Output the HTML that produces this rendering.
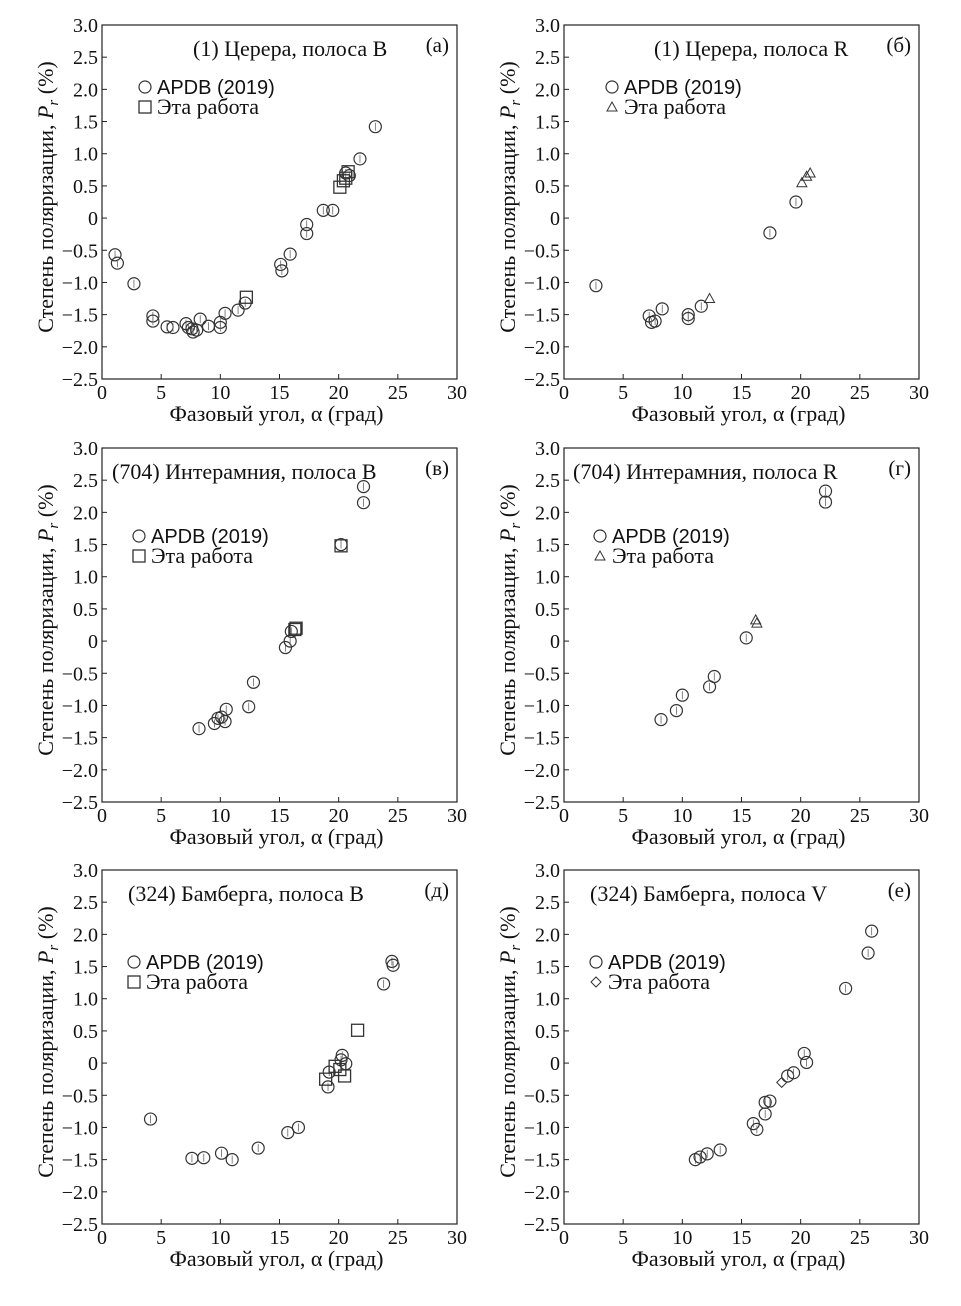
<!DOCTYPE html>
<html><head><meta charset="utf-8"><style>
html,body{margin:0;padding:0;background:#fff}
svg{display:block;font-family:"Liberation Serif",serif}
</style></head><body>
<svg id="c" width="961" height="1306" viewBox="0 0 961 1306" xmlns="http://www.w3.org/2000/svg"></svg>
<script>
const xTicks=[0,5,10,15,20,25,30];
const yTicks=[3.0,2.5,2.0,1.5,1.0,0.5,0,-0.5,-1.0,-1.5,-2.0,-2.5];
const yTickLabels=["3.0","2.5","2.0","1.5","1.0","0.5","0","−0.5","−1.0","−1.5","−2.0","−2.5"];
// Panel a
const aApdbX=[1.1,1.3,2.7,4.3,4.3,5.5,6,7.1,7.3,7.6,7.7,8.0,8.3,9,10,10,10.4,11.5,12.1,15.1,15.2,15.9,17.3,17.3,18.7,19.5,20.9,20.6,21.8,23.1];
const aApdbY=[-0.57,-0.70,-1.02,-1.52,-1.60,-1.69,-1.70,-1.64,-1.70,-1.72,-1.77,-1.74,-1.57,-1.68,-1.62,-1.70,-1.48,-1.43,-1.32,-0.72,-0.82,-0.56,-0.10,-0.24,0.12,0.12,0.66,0.70,0.92,1.42];
const aOwnX=[12.2,20.1,20.4,20.6,20.8];
const aOwnY=[-1.23,0.48,0.58,0.62,0.72];
// Panel b
const bApdbX=[2.7,7.2,7.4,7.7,8.3,10.5,10.5,11.6,17.4,19.6];
const bApdbY=[-1.05,-1.52,-1.62,-1.60,-1.41,-1.50,-1.56,-1.37,-0.23,0.25];
const bOwnX=[12.3,20.1,20.5,20.8];
const bOwnY=[-1.25,0.55,0.65,0.70];
// Panel c
const cApdbX=[8.2,9.5,9.8,10.1,10.4,10.5,12.4,12.8,15.5,15.9,16.0,20.2,22.1,22.1];
const cApdbY=[-1.36,-1.28,-1.20,-1.18,-1.25,-1.06,-1.02,-0.64,-0.10,0.0,0.15,1.50,2.40,2.15];
const cOwnX=[16.3,16.4,20.2];
const cOwnY=[0.18,0.20,1.48];
// Panel d
const dApdbX=[8.2,9.5,10,12.3,12.7,15.4,22.1,22.1];
const dApdbY=[-1.22,-1.08,-0.84,-0.71,-0.55,0.05,2.33,2.16];
const dOwnX=[16.2,16.3];
const dOwnY=[0.33,0.28];
// Panel e
const eApdbX=[4.1,7.6,8.6,10.1,11.0,13.2,15.7,16.6,19.1,19.2,20.2,20.3,20.6,23.8,24.5,24.6];
const eApdbY=[-0.87,-1.48,-1.47,-1.40,-1.50,-1.32,-1.08,-1.00,-0.37,-0.14,0.05,0.12,-0.01,1.23,1.58,1.52];
const eOwnX=[18.9,19.7,20.1,20.5,21.6];
const eOwnY=[-0.25,-0.05,-0.10,-0.20,0.51];
// Panel f
const fApdbX=[11.1,11.5,12.1,13.2,16.0,16.3,17.0,17.0,17.4,18.9,19.4,20.3,20.5,23.8,25.7,26.0];
const fApdbY=[-1.50,-1.46,-1.41,-1.35,-0.94,-1.03,-0.79,-0.61,-0.59,-0.20,-0.15,0.15,0.01,1.16,1.71,2.05];
const fOwnX=[18.4];
const fOwnY=[-0.30];

const panels=[
 {id:'a',L:102,T:25,title:'(1) Церера, полоса B',tx:193,letter:'(а)',ax:aApdbX,ay:aApdbY,ox:aOwnX,oy:aOwnY,m:'square',legY:87,legX:145},
 {id:'b',L:564,T:25,title:'(1) Церера, полоса R',tx:654,letter:'(б)',ax:bApdbX,ay:bApdbY,ox:bOwnX,oy:bOwnY,m:'triangle',legY:87,legX:612},
 {id:'c',L:102,T:448,title:'(704) Интерамния, полоса B',tx:112,letter:'(в)',ax:cApdbX,ay:cApdbY,ox:cOwnX,oy:cOwnY,m:'square',legY:536,legX:139},
 {id:'d',L:564,T:448,title:'(704) Интерамния, полоса R',tx:573,letter:'(г)',ax:dApdbX,ay:dApdbY,ox:dOwnX,oy:dOwnY,m:'triangle',legY:536,legX:600},
 {id:'e',L:102,T:870,title:'(324) Бамберга, полоса B',tx:128,letter:'(д)',ax:eApdbX,ay:eApdbY,ox:eOwnX,oy:eOwnY,m:'square',legY:962,legX:134},
 {id:'f',L:564,T:870,title:'(324) Бамберга, полоса V',tx:590,letter:'(е)',ax:fApdbX,ay:fApdbY,ox:fOwnX,oy:fOwnY,m:'diamond',legY:962,legX:596}
];
const W=355,H=354;
const svg=document.getElementById('c');
const NS='http://www.w3.org/2000/svg';
function mk(tag,attrs,parent){const e=document.createElementNS(NS,tag);for(const k in attrs)e.setAttribute(k,attrs[k]);parent.appendChild(e);return e;}
function marker(type,cx,cy,g){
 let e;
 if(type==='circle'){e=mk('circle',{cx:cx,cy:cy,r:6,fill:'none',stroke:'#333','stroke-width':1.2},g);}
 else if(type==='square'){e=mk('rect',{x:cx-6,y:cy-6,width:12,height:12,fill:'none',stroke:'#333','stroke-width':1.3},g);}
 else if(type==='triangle'){e=mk('polygon',{points:`${cx},${cy-5} ${cx-5},${cy+4} ${cx+5},${cy+4}`,fill:'none',stroke:'#333','stroke-width':1},g);}
 else {e=mk('polygon',{points:`${cx},${cy-5} ${cx+5},${cy} ${cx},${cy+5} ${cx-5},${cy}`,fill:'none',stroke:'#333','stroke-width':1},g);}
 return e;
}
panels.forEach(p=>{
 const sx=v=>p.L+v/30*W;
 const sy=v=>p.T+(3-v)/5.5*H;
 const g=mk('g',{},svg);
 
 
 const fr=mk('rect',{x:p.L,y:p.T,width:W,height:H,fill:'none',stroke:'#222','stroke-width':1.2},g);
 
 
 xTicks.forEach(t=>{
  mk('line',{x1:sx(t),x2:sx(t),y1:p.T+H,y2:p.T+H-5,stroke:'#222'},g);
  const tl=mk('text',{x:sx(t),y:p.T+H+20,'text-anchor':'middle','font-size':20,fill:'#111'},g);
  tl.textContent=t;
  
  
 });
 yTicks.forEach((t,i)=>{
  mk('line',{x1:p.L,x2:p.L+5,y1:sy(t),y2:sy(t),stroke:'#222'},g);
  const tl=mk('text',{x:p.L-4,y:sy(t)+7,'text-anchor':'end','font-size':20,fill:'#111'},g);
  tl.textContent=yTickLabels[i];
  
  
 });
 const xt=mk('text',{x:p.L+W/2-3,y:p.T+H+42,'text-anchor':'middle','font-size':22,fill:'#111'},g);
 xt.textContent='Фазовый угол, α (град)';
 
 
 const yt=mk('text',{x:0,y:0,'text-anchor':'middle','font-size':22,fill:'#111',transform:`translate(${p.L-49},${p.T+H/2-5}) rotate(-90)`},g);
 yt.innerHTML='Степень поляризации, <tspan font-style="italic">P</tspan><tspan font-style="italic" font-size="15" dy="5">r</tspan><tspan dy="-5"> (%)</tspan>';
 
 
 const tt=mk('text',{x:p.tx,y:p.T+31,'font-size':22,fill:'#111'},g);
 tt.textContent=p.title;
 
 
 const lt=mk('text',{x:p.L+W-8,y:p.T+27,'text-anchor':'end','font-size':21,fill:'#111'},g);
 lt.textContent=p.letter;
 
 
 const lg=mk('g',{},g);
 
 
 marker('circle',p.legX,p.legY,lg);
 const l1=mk('text',{x:p.legX+12,y:p.legY+7,'font-size':20,'font-family':'Liberation Sans, sans-serif',fill:'#111'},lg);
 l1.textContent='APDB (2019)';
 
 
 marker(p.m,p.legX,p.legY+20,lg);
 const l2=mk('text',{x:p.legX+12,y:p.legY+27,'font-size':22,fill:'#111'},lg);
 l2.textContent='Эта работа';
 
 
 const ga=mk('g',{},g);
 
 
 p.ax.forEach((x,i)=>{
  const cx=sx(x),cy=sy(p.ay[i]);
  mk('line',{x1:cx,x2:cx,y1:cy-4,y2:cy+4,stroke:'#666','stroke-width':0.8},ga);
  const m=marker('circle',cx,cy,ga);
  
  
 });
 const go=mk('g',{},g);
 
 
 p.ox.forEach((x,i)=>{
  const m=marker(p.m,sx(x),sy(p.oy[i]),go);
  
  
 });
});
</script>
</body></html>
